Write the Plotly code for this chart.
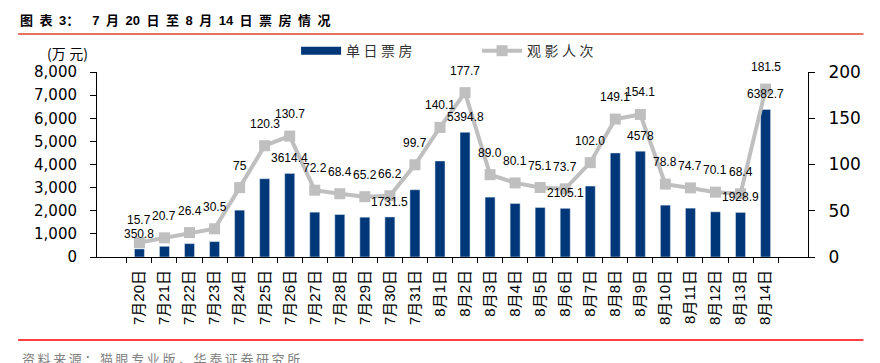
import plotly.graph_objects as go

dates = ["7月20日", "7月21日", "7月22日", "7月23日", "7月24日", "7月25日", "7月26日",
         "7月27日", "7月28日", "7月29日", "7月30日", "7月31日", "8月1日", "8月2日",
         "8月3日", "8月4日", "8月5日", "8月6日", "8月7日", "8月8日", "8月9日",
         "8月10日", "8月11日", "8月12日", "8月13日", "8月14日"]
box_office = [350.8, 463, 579, 666, 2026, 3386, 3614.4, 1939, 1838, 1722, 1731.5, 2909,
              4153, 5394.8, 2590, 2315, 2142, 2105.1, 3068, 4501, 4578, 2243, 2113,
              1954, 1928.9, 6382.7]
audience = [15.7, 20.7, 26.4, 30.5, 75, 120.3, 130.7, 72.2, 68.4, 65.2, 66.2, 99.7,
            140.1, 177.7, 89.0, 80.1, 75.1, 73.7, 102.0, 149.1, 154.1, 78.8, 74.7,
            70.1, 68.4, 181.5]
audience_text = ["15.7", "20.7", "26.4", "30.5", "75", "120.3", "130.7", "72.2", "68.4",
                 "65.2", "66.2", "99.7", "140.1", "177.7", "89.0", "80.1", "75.1", "73.7",
                 "102.0", "149.1", "154.1", "78.8", "74.7", "70.1", "68.4", "181.5"]
bar_labels = {"7月20日": "350.8", "7月26日": "3614.4", "7月30日": "1731.5",
              "8月2日": "5394.8", "8月6日": "2105.1", "8月9日": "4578",
              "8月13日": "1928.9", "8月14日": "6382.7"}

NAVY = "#003778"
GRAY = "#BFBFBF"
CJK = "Noto Sans CJK SC"
SP = "\u2005"   # small letter spacing
EN = "\u2002"

def spaced(s, sep):
    return sep.join(list(s))

fig = go.Figure()
fig.add_trace(go.Bar(x=dates, y=box_office, marker_color=NAVY, name="单日票房",
                     showlegend=False, yaxis="y"))
# legend entry for bars (wide rectangle)
fig.add_trace(go.Scatter(x=[None], y=[None], mode="lines", line=dict(color=NAVY, width=8),
                         name=spaced("单日票房", SP), yaxis="y"))
fig.add_trace(go.Scatter(x=dates, y=audience, mode="lines+markers", name=spaced("观影人次", SP),
                         line=dict(color=GRAY, width=4),
                         marker=dict(symbol="square", size=11, color=GRAY),
                         yaxis="y2", cliponaxis=False))

annotations = []
for d, v, t in zip(dates, audience, audience_text):
    annotations.append(dict(x=d, y=v, xref="x", yref="y2", text=t, showarrow=False,
                            yshift=22, font=dict(family="Liberation Sans", size=12, color="#000")))
for d, v in zip(dates, box_office):
    if d in bar_labels:
        annotations.append(dict(x=d, y=v, xref="x", yref="y", text=bar_labels[d],
                                showarrow=False, yshift=15,
                                font=dict(family="Liberation Sans", size=12, color="#000")))

title_text = ("<b>图" + EN + "表" + EN + "3：" + "\u2003" + "7" + EN + "月" + EN + "20"
              + EN + "日" + EN + "至" + EN + "8" + EN + "月" + EN + "14" + EN
              + spaced("日票房情况", EN) + "</b>")
annotations += [
    dict(x=-0.111, y=1.281, xref="paper", yref="paper", xanchor="left", yanchor="middle",
         text=title_text, showarrow=False,
         font=dict(family="Liberation Sans, Noto Sans CJK SC", size=13, color="#000")),
    dict(x=-0.042, y=1.10, xref="paper", yref="paper", xanchor="center", yanchor="middle",
         text="(万" + SP + "元)", showarrow=False, font=dict(family=CJK, size=14, color="#000")),
    dict(x=-0.108, y=-0.55, xref="paper", yref="paper", xanchor="left", yanchor="middle",
         text=spaced("资料来源：猫眼专业版，华泰证券研究所", "\u2009"), showarrow=False,
         font=dict(family=CJK, size=13, color="#808080")),
]

shapes = [
    dict(type="line", xref="paper", yref="paper", x0=-0.111, x1=1.078, y0=1.205, y1=1.205,
         line=dict(color="#E8735F", width=2)),
    dict(type="line", xref="paper", yref="paper", x0=-0.111, x1=1.078, y0=-0.449, y1=-0.449,
         line=dict(color="#FF0000", width=1.5)),
]

fig.update_layout(
    width=872, height=355,
    margin=dict(l=89, r=72, t=64, b=106),
    paper_bgcolor="white", plot_bgcolor="white",
    bargap=0.6,
    annotations=annotations, shapes=shapes,
    legend=dict(orientation="h", x=0.28, y=1.113, xanchor="left", yanchor="middle",
                entrywidth=126, entrywidthmode="pixels", bgcolor="rgba(0,0,0,0)",
                font=dict(family=CJK, size=14, color="#333"), itemwidth=40),
    xaxis=dict(type="category", showline=True, linecolor="#000", linewidth=1,
               ticks="outside", ticklen=5, tickcolor="#000", tickson="boundaries",
               tickangle=-90, ticklabelstandoff=6, automargin=False,
               tickfont=dict(family="Liberation Sans, Noto Sans CJK SC", size=15, color="#000"),
               showgrid=False, zeroline=False),
    yaxis=dict(range=[0, 8000], dtick=1000, tickformat=",", showline=True, linecolor="#000",
               ticks="outside", ticklen=6, tickcolor="#000", showgrid=False, zeroline=False,
               ticklabelstandoff=10, automargin=False,
               tickfont=dict(family="DejaVu Sans", size=15, color="#000")),
    yaxis2=dict(range=[0, 200], dtick=50, overlaying="y", side="right", showline=True,
                linecolor="#000", ticks="outside", ticklen=6, tickcolor="#000",
                showgrid=False, zeroline=False, ticklabelstandoff=10, automargin=False,
                tickfont=dict(family="DejaVu Sans", size=17, color="#000")),
)

fig.write_html("out.html")
